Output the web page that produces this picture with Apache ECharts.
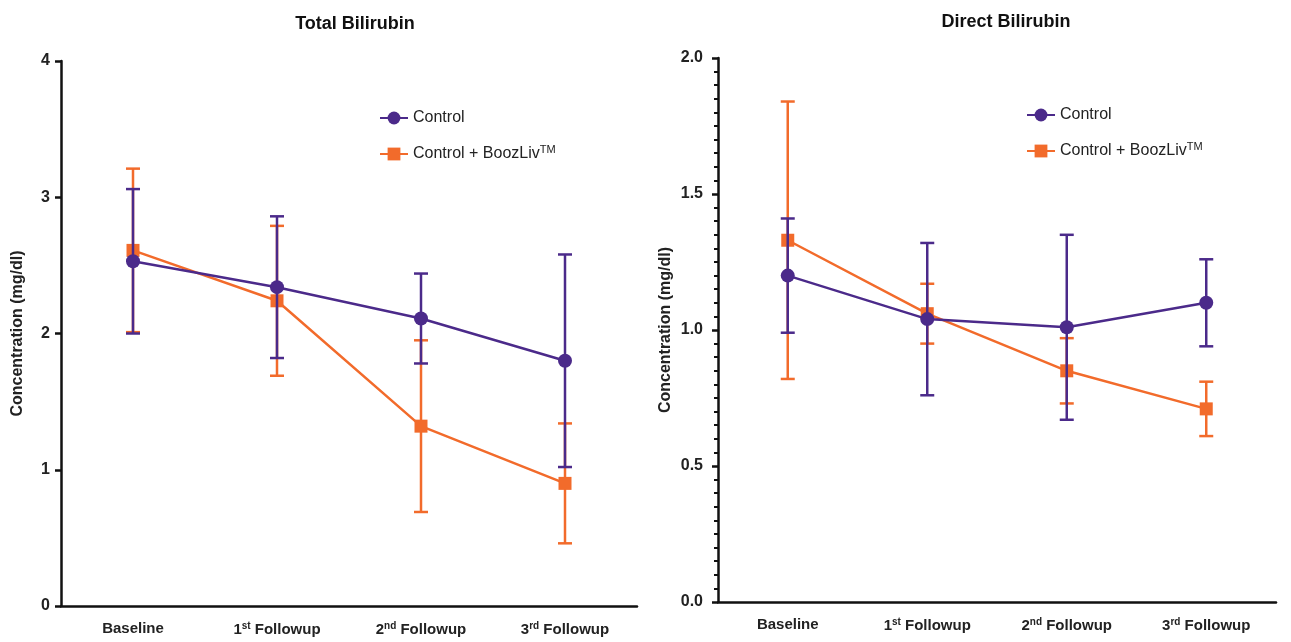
<!DOCTYPE html>
<html>
<head>
<meta charset="utf-8">
<script src="https://cdn.jsdelivr.net/npm/echarts@6/dist/echarts.min.js"></script>
<style>
html,body{margin:0;padding:0;background:#fff;}
#chart{width:1291px;height:642px;}
</style>
</head>
<body>
<div id="chart"></div>
<script>
const categories = ['Baseline', '1st Followup', '2nd Followup', '3rd Followup'];
const seriesNames = ['Control', 'Control + BoozLivTM'];

// Total Bilirubin
const totalControlMean = [2.53, 2.34, 2.11, 1.80];
const totalControlLow  = [2.00, 1.82, 1.78, 1.02];
const totalControlHigh = [3.06, 2.86, 2.44, 2.58];
const totalBoozMean = [2.61, 2.24, 1.32, 0.90];
const totalBoozLow  = [2.01, 1.69, 0.69, 0.46];
const totalBoozHigh = [3.21, 2.79, 1.95, 1.34];

// Direct Bilirubin
const directControlMean = [1.20, 1.04, 1.01, 1.10];
const directControlLow  = [0.99, 0.76, 0.67, 0.94];
const directControlHigh = [1.41, 1.32, 1.35, 1.26];
const directBoozMean = [1.33, 1.06, 0.85, 0.71];
const directBoozLow  = [0.82, 0.95, 0.73, 0.61];
const directBoozHigh = [1.84, 1.17, 0.97, 0.81];

const totalTicks = [0, 1, 2, 3, 4];
const directTicks = [0, 0.5, 1.0, 1.5, 2.0];

const PURPLE = '#4B2A8A';
const ORANGE = '#F26B2B';
const FONT = 'Liberation Sans, Arial, sans-serif';

const chart = echarts.init(document.getElementById('chart'));

function catFormatter(v) {
  const m = v.match(/^(\d)(st|nd|rd)\s(.*)$/);
  if (m) return '{b|' + m[1] + '}{sup|' + m[2] + '}{b| ' + m[3] + '}';
  return '{b|' + v + '}';
}
const catRich = {
  b: {fontFamily: FONT, fontWeight: 'bold', fontSize: 15, color: '#222'},
  sup: {fontFamily: FONT, fontWeight: 'bold', fontSize: 10, color: '#222', padding: [0, 0, 8, 0]}
};

function errSeries(name, low, high, color, idx, z) {
  return {
    type: 'custom',
    name: name + ' error',
    xAxisIndex: idx, yAxisIndex: idx,
    data: low.map((l, i) => [i, l, high[i]]),
    renderItem: function (params, api) {
      const x = api.value(0);
      const lo = api.coord([x, api.value(1)]);
      const hi = api.coord([x, api.value(2)]);
      const hw = 7;
      const st = {stroke: color, lineWidth: 2.5};
      return {
        type: 'group',
        children: [
          {type: 'line', shape: {x1: lo[0], y1: lo[1], x2: hi[0], y2: hi[1]}, style: st},
          {type: 'line', shape: {x1: lo[0] - hw, y1: lo[1], x2: lo[0] + hw, y2: lo[1]}, style: st},
          {type: 'line', shape: {x1: hi[0] - hw, y1: hi[1], x2: hi[0] + hw, y2: hi[1]}, style: st}
        ]
      };
    },
    z: z,
    silent: true
  };
}

function lineSeries(name, data, color, symbol, size, idx, z) {
  return {
    type: 'line',
    name: name,
    xAxisIndex: idx, yAxisIndex: idx,
    data: data,
    symbol: symbol,
    symbolSize: size,
    showAllSymbol: true,
    lineStyle: {color: color, width: 2.5},
    itemStyle: {color: color},
    z: z
  };
}

function xAxis(idx) {
  return {
    type: 'category',
    gridIndex: idx,
    data: categories,
    boundaryGap: true,
    axisLine: {lineStyle: {color: '#111', width: 2.5}},
    axisTick: {alignWithLabel: true, length: 6, lineStyle: {width: 2.5, color: '#111'}},
    axisLabel: {formatter: catFormatter, rich: catRich, margin: 15, interval: 0}
  };
}

const legendCommon = {
  orient: 'vertical',
  data: seriesNames,
  itemWidth: 28,
  itemHeight: 16,
  itemGap: 18,
  textStyle: {fontFamily: FONT, fontSize: 16, color: '#222',
    rich: {
      n: {fontFamily: FONT, fontSize: 16, color: '#222'},
      sup: {fontFamily: FONT, fontSize: 11, color: '#222', padding: [0, 0, 9, 0]}
    }},
  formatter: function (name) {
    if (name.endsWith('TM')) return '{n|' + name.slice(0, -2) + '}{sup|TM}';
    return '{n|' + name + '}';
  }
};

const option = {
  animation: false,
  backgroundColor: '#fff',
  title: [
    {text: 'Total Bilirubin', left: 350, top: 10, textAlign: 'center',
     textStyle: {fontFamily: FONT, fontWeight: 'bold', fontSize: 18, color: '#111'}},
    {text: 'Direct Bilirubin', left: 1001, top: 8, textAlign: 'center',
     textStyle: {fontFamily: FONT, fontWeight: 'bold', fontSize: 18, color: '#111'}}
  ],
  legend: [
    Object.assign({}, legendCommon, {left: 374, top: 105}),
    Object.assign({}, legendCommon, {left: 1021, top: 102})
  ],
  grid: [
    {left: 61, top: 61, width: 576, height: 545},
    {left: 718, top: 58, width: 558, height: 544}
  ],
  xAxis: [xAxis(0), xAxis(1)],
  yAxis: [
    {
      type: 'value', gridIndex: 0,
      min: totalTicks[0], max: totalTicks[totalTicks.length - 1], interval: 1,
      name: 'Concentration (mg/dl)', nameLocation: 'middle', nameGap: 35,
      nameTextStyle: {fontFamily: FONT, fontWeight: 'bold', fontSize: 16, color: '#222'},
      axisLine: {show: true, lineStyle: {color: '#111', width: 2.5}},
      axisTick: {show: true, length: 6, lineStyle: {width: 2.5, color: '#111'}},
      axisLabel: {fontFamily: FONT, fontWeight: 'bold', fontSize: 16, color: '#222', margin: 11},
      splitLine: {show: false}
    },
    {
      type: 'value', gridIndex: 1,
      min: directTicks[0], max: directTicks[directTicks.length - 1], interval: 0.5,
      name: 'Concentration (mg/dl)', nameLocation: 'middle', nameGap: 44,
      nameTextStyle: {fontFamily: FONT, fontWeight: 'bold', fontSize: 16, color: '#222'},
      axisLine: {show: true, lineStyle: {color: '#111', width: 2.5}},
      axisTick: {show: true, length: 6, lineStyle: {width: 2.5, color: '#111'}},
      minorTick: {show: true, splitNumber: 10, length: 4, lineStyle: {width: 2, color: '#111'}},
      axisLabel: {fontFamily: FONT, fontWeight: 'bold', fontSize: 16, color: '#222', margin: 15,
        formatter: v => v.toFixed(1)},
      splitLine: {show: false}
    }
  ],
  series: [
    lineSeries(seriesNames[0], totalControlMean, PURPLE, 'circle', 14, 0, 5),
    lineSeries(seriesNames[1], totalBoozMean, ORANGE, 'rect', 13, 0, 3),
    errSeries(seriesNames[1], totalBoozLow, totalBoozHigh, ORANGE, 0, 2),
    errSeries(seriesNames[0], totalControlLow, totalControlHigh, PURPLE, 0, 4),
    lineSeries(seriesNames[0], directControlMean, PURPLE, 'circle', 14, 1, 5),
    lineSeries(seriesNames[1], directBoozMean, ORANGE, 'rect', 13, 1, 3),
    errSeries(seriesNames[1], directBoozLow, directBoozHigh, ORANGE, 1, 2),
    errSeries(seriesNames[0], directControlLow, directControlHigh, PURPLE, 1, 4)
  ]
};
chart.setOption(option);
</script>
</body>
</html>
